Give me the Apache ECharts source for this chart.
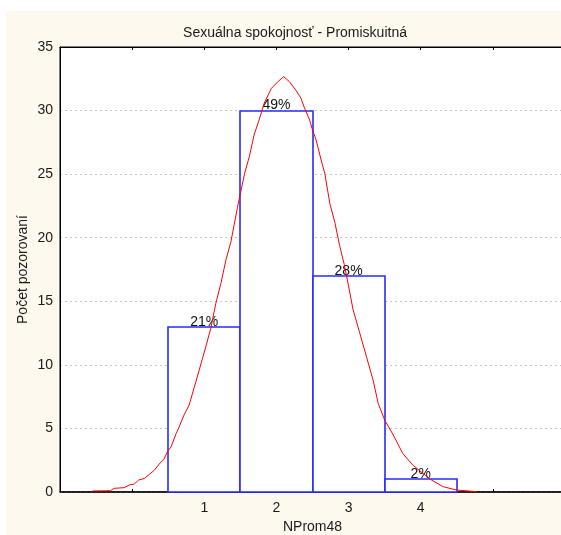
<!DOCTYPE html>
<html>
<head>
<meta charset="utf-8">
<script src="https://cdn.jsdelivr.net/npm/echarts@6/dist/echarts.min.js"></script>
<style>
  html, body { margin: 0; padding: 0; background: #ffffff; }
  #wrap { position: absolute; left: 0; top: 0; width: 561px; height: 535px; background: #ffffff; overflow: hidden; }
  #chart { position: absolute; left: 6px; top: 11px; width: 575px; height: 524px; }
</style>
</head>
<body>
<div id="wrap"><div id="chart"></div></div>
<script>
// ---- data ----
const titleText = 'Sexuálna spokojnosť - Promiskuitná';
const xAxisName = 'NProm48';
const yAxisName = 'Počet pozorovaní';
const categories = [1, 2, 3, 4];
const counts = [13, 30, 17, 1];
const pctLabels = ['21%', '49%', '28%', '2%'];
const xTickLabels = ['1', '2', '3', '4'];
const yTicks = [0, 5, 10, 15, 20, 25, 30, 35];
// fitted curve
const curveX = [-0.55, -0.3, -0.25, -0.11, -0.04, 0.03, 0.09, 0.17, 0.24, 0.31, 0.375, 0.44, 0.49, 0.54, 0.61, 0.65, 0.72, 0.79, 0.91, 1.02, 1.09, 1.16, 1.23, 1.30, 1.37, 1.46, 1.56, 1.625, 1.69, 1.76, 1.83, 1.93, 2.02, 2.10, 2.18, 2.27, 2.34, 2.39, 2.46, 2.50, 2.55, 2.62, 2.67, 2.74, 2.81, 2.875, 2.94, 3.01, 3.06, 3.15, 3.25, 3.34, 3.41, 3.50, 3.62, 3.75, 3.89, 4.03, 4.15, 4.31, 4.49, 4.77];
const curveY = [0.08, 0.1, 0.29, 0.34, 0.55, 0.63, 0.94, 1.07, 1.39, 1.73, 2.2, 2.57, 3.17, 3.56, 4.6, 5.1, 6.06, 6.84, 9.2, 11.4, 12.87, 14.84, 16.4, 18.25, 19.7, 22.4, 25.07, 26.4, 28.08, 29.26, 30.57, 31.75, 32.27, 32.67, 32.27, 31.6, 30.97, 30.18, 29.26, 28.47, 27.69, 26.1, 25.07, 22.7, 21.2, 19.4, 17.9, 15.9, 14.4, 12.6, 10.6, 8.8, 6.98, 5.66, 4.48, 3.04, 2.12, 1.47, 0.94, 0.42, 0.16, 0.03];

const FONT = 'Liberation Sans, Arial, sans-serif';
const chart = echarts.init(document.getElementById('chart'), null, { renderer: 'canvas' });

const barData = categories.map((c, i) => [c, counts[i]]);
const curveData = curveX.map((x, i) => [x, curveY[i]]);

const option = {
  backgroundColor: '#fdf9ee',
  animation: false,
  title: {
    text: titleText,
    left: 284, top: 10,
    textAlign: 'center',
    textStyle: { fontFamily: FONT, fontSize: 14, fontWeight: 'normal', color: '#1a1a1a' }
  },
  grid: {
    left: 54, top: 36, right: 16, bottom: 43,
    outerBoundsMode: 'none',
    show: true, backgroundColor: '#ffffff', borderColor: '#000', borderWidth: 1,
    containLabel: false
  },
  xAxis: [{
    type: 'value', min: -1, max: 6, interval: 1,
    position: 'bottom',
    name: xAxisName, nameLocation: 'middle', nameGap: 27,
    nameTextStyle: { fontFamily: FONT, fontSize: 14, color: '#1a1a1a' },
    axisLine: { show: true, onZero: false, lineStyle: { color: '#000', width: 1.5 } },
    axisTick: { show: true, inside: true, length: 3, lineStyle: { color: '#000' } },
    axisLabel: {
      margin: 9, fontFamily: FONT, fontSize: 14, color: '#1a1a1a',
      formatter: v => { const i = categories.indexOf(v); return i >= 0 ? xTickLabels[i] : ''; }
    },
    splitLine: { show: false }
  }, {
    type: 'value', min: -1, max: 6, interval: 1,
    position: 'top',
    axisLine: { show: true, onZero: false, lineStyle: { color: '#000', width: 1 } },
    axisTick: { show: true, inside: true, length: 3, lineStyle: { color: '#000' } },
    axisLabel: { show: false },
    splitLine: { show: false }
  }],
  yAxis: {
    type: 'value', min: yTicks[0], max: yTicks[yTicks.length - 1], interval: 5,
    name: yAxisName, nameLocation: 'middle', nameGap: 30, nameMoveOverlap: false,
    nameTextStyle: { fontFamily: FONT, fontSize: 14, color: '#1a1a1a' },
    axisLine: { show: true, onZero: false, lineStyle: { color: '#000', width: 1 } },
    axisTick: { show: false },
    axisLabel: { margin: 7, fontFamily: FONT, fontSize: 14, color: '#1a1a1a' },
    splitLine: { show: true, lineStyle: { color: '#c4c4c4', type: [2, 3], width: 1 } }
  },
  series: [{
    type: 'custom',
    xAxisIndex: 0, yAxisIndex: 0,
    data: barData,
    z: 3,
    renderItem: function (params, api) {
      const x = api.value(0), y = api.value(1);
      const p0 = api.coord([x - 0.5, y]);
      const p1 = api.coord([x + 0.5, 0]);
      const x0 = Math.round(p0[0]), y0 = Math.round(p0[1]);
      const x1 = Math.round(p1[0]), y1 = Math.round(p1[1]);
      return {
        type: 'group',
        children: [{
          type: 'rect',
          shape: { x: x0, y: y0, width: x1 - x0, height: y1 - y0 },
          style: { fill: '#ffffff', stroke: '#2a2aff', lineWidth: 1.6 }
        }, {
          type: 'text',
          x: (p0[0] + p1[0]) / 2, y: p0[1] + 2,
          style: {
            text: pctLabels[params.dataIndex],
            textAlign: 'center', textVerticalAlign: 'bottom',
            font: '14px ' + FONT, fill: '#111'
          }
        }]
      };
    }
  }, {
    type: 'line',
    xAxisIndex: 0, yAxisIndex: 0,
    data: curveData,
    showSymbol: false, symbol: 'none', smooth: false,
    z: 4,
    lineStyle: { color: '#ff0000', width: 1 }
  }]
};
chart.setOption(option);
</script>
</body>
</html>
